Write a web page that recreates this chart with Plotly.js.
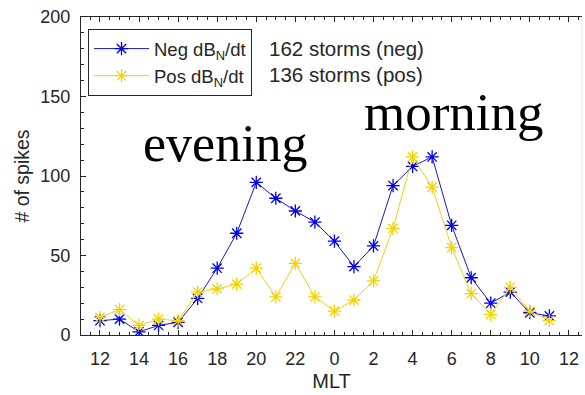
<!DOCTYPE html>
<html>
<head>
<meta charset="utf-8">
<script src="https://cdn.plot.ly/plotly-3.0.1.min.js"></script>
<style>html,body{margin:0;padding:0;background:#fff;}#chart{width:585px;height:395px;}</style>
</head>
<body>
<div id="chart"></div>
<script>
// MLT hour of each bin (wraps from noon through midnight to noon)
const mltHours = [12,13,14,15,16,17,18,19,20,21,22,23,0,1,2,3,4,5,6,7,8,9,10,11];
const negSpikes = [9,10,2,6,8,23,42,64,96,86,78,71,59,43,56,94,106,112,69,36,20,27,14,12];
const posSpikes = [11,16,6,10,9,27,29,32,42,24,45,24,15,22,34,67,112,93,55,26,13,30,15,9];
const tickLabels = ["12","14","16","18","20","22","0","2","4","6","8","10","12"];
const stormNotes = ["162 storms (neg)", "136 storms (pos)"];
const regionLabels = ["evening", "morning"];

const xIdx = mltHours.map((h, i) => i);
const tickPos = tickLabels.map((t, i) => i * 2);

const axisColor = '#262626';
const fontFam = 'Liberation Sans, Arial, sans-serif';

const traces = [
  {
    x: xIdx, y: negSpikes, type: 'scatter', mode: 'lines+markers',
    name: 'Neg dB<sub>N</sub>/dt',
    line: {color: '#1a1ab0', width: 1},
    marker: {symbol: 'asterisk-open', size: 11, color: '#0000ee', line: {color: '#0000ee', width: 1.3}}
  },
  {
    x: xIdx, y: posSpikes, type: 'scatter', mode: 'lines+markers',
    name: 'Pos dB<sub>N</sub>/dt',
    line: {color: '#ecd21a', width: 1},
    marker: {symbol: 'asterisk-open', size: 11, color: '#f2d400', line: {color: '#f2d400', width: 1.3}}
  }
];

const layout = {
  width: 585, height: 395,
  margin: {l: 81, r: 3, t: 17, b: 60},
  paper_bgcolor: '#fff', plot_bgcolor: '#fff',
  font: {family: fontFam, color: axisColor},
  showlegend: true,
  legend: {
    x: 0.014, y: 0.962, xanchor: 'left', yanchor: 'top',
    bgcolor: '#fff', bordercolor: axisColor, borderwidth: 1,
    font: {size: 18.5, color: axisColor, family: fontFam},
    tracegroupgap: 6, itemwidth: 55
  },
  xaxis: {
    range: [-0.97, 24.67],
    tickvals: tickPos, ticktext: tickLabels,
    ticks: 'inside', ticklen: 5, tickcolor: axisColor, tickwidth: 1,
    minor: {ticks: 'inside', ticklen: 3, dtick: 0.5, tick0: 0, tickcolor: axisColor},
    showgrid: false, zeroline: false,
    showline: true, linecolor: axisColor, linewidth: 1, mirror: 'ticks',
    tickfont: {size: 18, color: axisColor},
    ticklabelstandoff: 7,
    title: {text: 'MLT', font: {size: 20, color: axisColor}, standoff: 6}
  },
  yaxis: {
    range: [0, 200],
    tickvals: [0, 50, 100, 150, 200],
    ticks: 'inside', ticklen: 5, tickcolor: axisColor, tickwidth: 1,
    minor: {ticks: 'inside', ticklen: 3, dtick: 10, tickcolor: axisColor},
    showgrid: false, zeroline: false,
    showline: true, linecolor: axisColor, linewidth: 1,
    tickfont: {size: 18, color: axisColor},
    ticklabelstandoff: 6,
    title: {text: '# of spikes', font: {size: 19.5, color: axisColor}, standoff: 5}
  },
  shapes: [
    {type: 'line', xref: 'paper', yref: 'paper', x0: 1, x1: 1, y0: 0, y1: 1,
     line: {color: '#e4e4e4', width: 1}}
  ],
  annotations: [
    {xref: 'paper', yref: 'paper', x: (267 - 81) / 501, y: (335 - 49) / 318, xanchor: 'left', yanchor: 'middle',
     text: stormNotes[0], showarrow: false, font: {size: 20.5, color: axisColor, family: fontFam}},
    {xref: 'paper', yref: 'paper', x: (267 - 81) / 501, y: (335 - 75) / 318, xanchor: 'left', yanchor: 'middle',
     text: stormNotes[1], showarrow: false, font: {size: 20.5, color: axisColor, family: fontFam}},
    {xref: 'paper', yref: 'paper', x: (225 - 81) / 501, y: (335 - 143) / 318, xanchor: 'center', yanchor: 'middle',
     text: regionLabels[0], showarrow: false, font: {size: 52, color: '#000', family: 'Liberation Serif, Times New Roman, serif'}},
    {xref: 'paper', yref: 'paper', x: (454 - 81) / 501, y: (335 - 112) / 318, xanchor: 'center', yanchor: 'middle',
     text: regionLabels[1], showarrow: false, font: {size: 53, color: '#000', family: 'Liberation Serif, Times New Roman, serif'}}
  ]
};

Plotly.newPlot('chart', traces, layout, {displayModeBar: false, staticPlot: true});
</script>
</body>
</html>
